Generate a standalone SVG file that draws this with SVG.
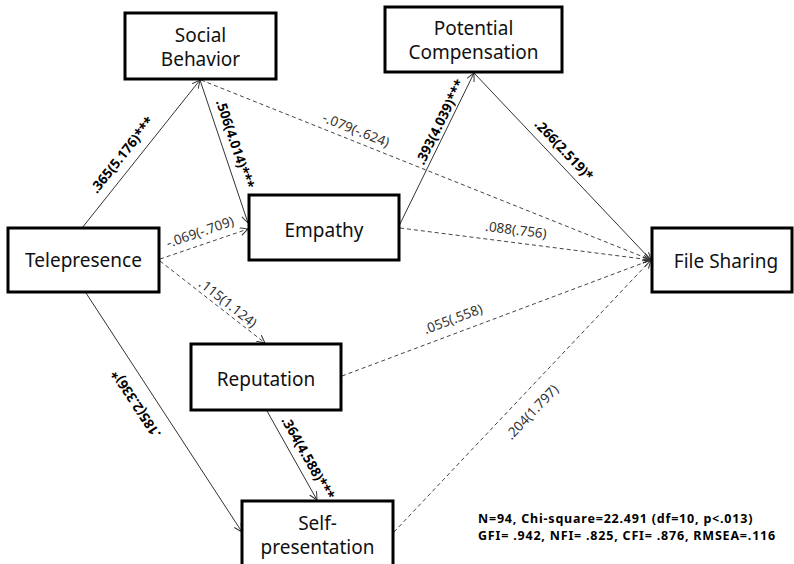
<svg xmlns="http://www.w3.org/2000/svg" width="794" height="564" viewBox="0 0 794 564">
  <defs>
    <marker id="arr" markerUnits="userSpaceOnUse" markerWidth="10" markerHeight="10" refX="8" refY="4" orient="auto">
      <path d="M0,0 L8,4 L0,8" fill="none" stroke="#333" stroke-width="1"/>
    </marker>
    <style>
      .box { fill: #fff; stroke: #000; stroke-width: 3; }
      .nl { font-family: "Noto Sans", "Open Sans", sans-serif; font-size: 19px; fill: #111; text-anchor: middle; }
      .solid { stroke: #333; stroke-width: 1; fill: none; }
      .dash { stroke: #444; stroke-width: 1; fill: none; stroke-dasharray: 4 3; }
      .el { font-family: "Noto Sans", "Open Sans", sans-serif; font-size: 13.5px; text-anchor: middle; }
      .b { font-weight: bold; fill: #000; }
      .n { fill: #333; }
      .stat { font-family: "Noto Sans", "Open Sans", sans-serif; font-size: 12.5px; letter-spacing: 0.8px; font-weight: bold; fill: #000; }
    </style>
  </defs>
  <rect width="794" height="564" fill="#fff"/>

  <!-- paths between constructs -->
  <g id="connectors">
    <line class="solid" x1="82" y1="228" x2="200" y2="80" marker-end="url(#arr)"/>
    <line class="solid" x1="200" y1="80" x2="248" y2="223" marker-end="url(#arr)"/>
    <line class="dash" x1="201" y1="80" x2="651" y2="260" marker-end="url(#arr)"/>
    <line class="dash" x1="160" y1="259" x2="248" y2="229" marker-end="url(#arr)"/>
    <line class="dash" x1="160" y1="261" x2="265" y2="343" marker-end="url(#arr)"/>
    <line class="solid" x1="86" y1="293" x2="242" y2="532" marker-end="url(#arr)"/>
    <line class="solid" x1="267" y1="411" x2="317" y2="500" marker-end="url(#arr)"/>
    <line class="solid" x1="399" y1="226" x2="474" y2="73" marker-end="url(#arr)"/>
    <line class="solid" x1="474" y1="73" x2="651" y2="260" marker-end="url(#arr)"/>
    <line class="dash" x1="400" y1="228" x2="651" y2="260" marker-end="url(#arr)"/>
    <line class="dash" x1="342" y1="376" x2="651" y2="260" marker-end="url(#arr)"/>
    <line class="dash" x1="394" y1="532" x2="651" y2="260" marker-end="url(#arr)"/>
  </g>

  <!-- path coefficients (t values) -->
  <g id="edge-labels">
    <text class="el b" transform="translate(122,155) rotate(-51.6)" dy="0.35em">.365(5.176)***</text>
    <text class="el b" transform="translate(235,144) rotate(71.4)" dy="0.35em">.506(4.014)***</text>
    <text class="el n" transform="translate(356,130) rotate(21.8)" dy="0.35em">-.079(-.624)</text>
    <text class="el n" transform="translate(200,232) rotate(-19)" dy="0.35em">-.069(-.709)</text>
    <text class="el n" transform="translate(228,303) rotate(38.3)" dy="0.35em">.115(1.124)</text>
    <text class="el b" transform="translate(136,404) rotate(-123.2)" dy="0.35em">.185(2.336)*</text>
    <text class="el b" transform="translate(308,458) rotate(60.4)" dy="0.35em">.364(4.588)***</text>
    <text class="el b" transform="translate(440,122) rotate(-63.7)" dy="0.35em">.393(4.039)***</text>
    <text class="el b" transform="translate(564,150) rotate(46.6)" dy="0.35em">.266(2.519)*</text>
    <text class="el n" transform="translate(516,230) rotate(7.2)" dy="0.35em">.088(.756)</text>
    <text class="el n" transform="translate(453,319) rotate(-20.5)" dy="0.35em">.055(.558)</text>
    <text class="el n" transform="translate(532,412) rotate(-46.4)" dy="0.35em">.204(1.797)</text>
  </g>

  <g id="social-behavior">
    <rect class="box" x="125" y="13" width="151" height="66"/>
    <text class="nl" x="200.5" y="42">Social</text>
    <text class="nl" x="200.5" y="66">Behavior</text>
  </g>
  <g id="potential-compensation">
    <rect class="box" x="385" y="7" width="177" height="65"/>
    <text class="nl" x="473.5" y="35">Potential</text>
    <text class="nl" x="473.5" y="59">Compensation</text>
  </g>
  <g id="empathy">
    <rect class="box" x="249" y="195" width="150" height="65"/>
    <text class="nl" x="324" y="237">Empathy</text>
  </g>
  <g id="telepresence">
    <rect class="box" x="8" y="228" width="151" height="64"/>
    <text class="nl" x="83.5" y="267">Telepresence</text>
  </g>
  <g id="file-sharing">
    <rect class="box" x="652" y="228" width="140" height="64"/>
    <text class="nl" x="726" y="268">File Sharing</text>
  </g>
  <g id="reputation">
    <rect class="box" x="191" y="344" width="150" height="66"/>
    <text class="nl" x="266" y="386">Reputation</text>
  </g>
  <g id="self-presentation">
    <rect class="box" x="242" y="501" width="151" height="75"/>
    <text class="nl" x="317.5" y="530">Self-</text>
    <text class="nl" x="317.5" y="554">presentation</text>
  </g>

  <g id="fit-statistics">
    <text class="stat" x="478" y="523">N=94, Chi-square=22.491 (df=10, p&lt;.013)</text>
    <text class="stat" x="478" y="540">GFI= .942, NFI= .825, CFI= .876, RMSEA=.116</text>
  </g>
</svg>
